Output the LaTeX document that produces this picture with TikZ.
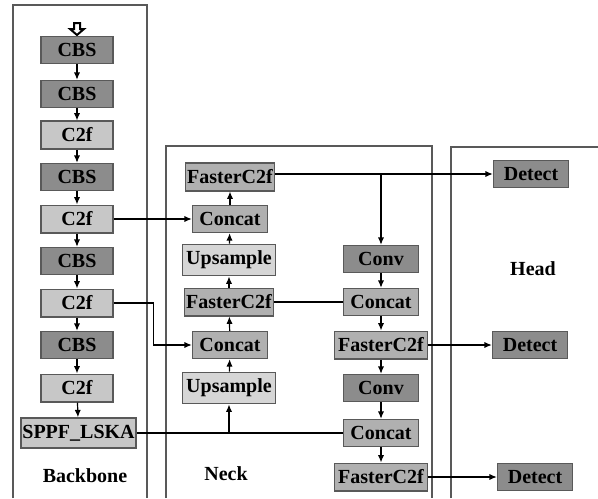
\documentclass[tikz,border=0pt]{standalone}
\usepackage{fontspec}
\setmainfont{Liberation Serif}[BoldFont={Liberation Serif Bold}]
\usetikzlibrary{arrows.meta,positioning}
\definecolor{dkgray}{gray}{0.55}
\definecolor{mdgray}{gray}{0.69}
\definecolor{ltgray}{gray}{0.78}
\definecolor{pale}{gray}{0.84}
\definecolor{edge}{gray}{0.35}
\begin{document}
\begin{tikzpicture}[x=0.5pt,y=-0.5pt,
box/.style={draw=edge,line width=0.7pt,inner xsep=2pt,minimum height=13.5pt,minimum width=37.5pt,font=\rmfamily\fontsize{10}{11}\selectfont\bfseries},
bb/.style={box,minimum width=36pt},
ref/.style={-{Latex[length=1.3mm,width=1.1mm]},line width=0.6pt},
panel/.style={draw=edge,line width=0.6pt},
lbl/.style={font=\rmfamily\fontsize{10}{11}\selectfont\bfseries}]
\useasboundingbox (0,0) rectangle (598,498);
% panels
\draw[panel] (13,498) -- (13,5) -- (147,5) -- (147,498);
\draw[panel] (166,498) -- (166,146) -- (432,146) -- (432,498);
\draw[panel] (451,498) -- (451,147) -- (598,147);
\node[lbl] (lbb) at (85,476) {Backbone};
\node[lbl] (lnk) at (226,474) {Neck};
\node[lbl] (lhd) at (533,269) {Head};
% input
\draw[line width=1pt,fill=white] (74,23) -- (80,23) -- (80,29) -- (84,29) -- (77,35) -- (70,29) -- (74,29) -- cycle;
% backbone
\node[bb,fill=dkgray] (cbs1) at (77,50) {CBS};
\node[bb,fill=dkgray] (cbs2) at (77,94) {CBS};
\node[bb,fill=ltgray] (c2f1) at (77,135) {C2f};
\node[bb,fill=dkgray] (cbs3) at (77,177) {CBS};
\node[bb,fill=ltgray] (c2f2) at (77,219) {C2f};
\node[bb,fill=dkgray] (cbs4) at (77,261) {CBS};
\node[bb,fill=ltgray] (c2f3) at (77,303) {C2f};
\node[bb,fill=dkgray] (cbs5) at (77,345) {CBS};
\node[bb,fill=ltgray] (c2f4) at (77,388) {C2f};
\node[box,fill=ltgray,inner xsep=0.6pt,minimum height=15pt] (sppf) at (78.5,433) {SPPF\_LSKA};
\draw[ref] (cbs1) -- (cbs2); \draw[ref] (cbs2) -- (c2f1);
\draw[ref] (c2f1) -- (cbs3); \draw[ref] (cbs3) -- (c2f2);
\draw[ref] (c2f2) -- (cbs4); \draw[ref] (cbs4) -- (c2f3);
\draw[ref] (c2f3) -- (cbs5); \draw[ref] (cbs5) -- (c2f4);
\draw[ref] (c2f4) -- (sppf);
% neck, up path
\node[box,fill=mdgray,inner xsep=1pt] (fc1) at (230,177) {FasterC2f};
\node[box,fill=mdgray] (cat1) at (230,219) {Concat};
\node[box,fill=pale] (up1) at (229,260) {Upsample};
\node[box,fill=mdgray,inner xsep=1pt] (fc2) at (229,302) {FasterC2f};
\node[box,fill=mdgray] (cat2) at (230,345) {Concat};
\node[box,fill=pale] (up2) at (229,388) {Upsample};
\draw[ref] (up2) -- (cat2); \draw[ref] (cat2) -- (fc2);
\draw[ref] (fc2) -- (up1); \draw[ref] (up1) -- (cat1);
\draw[ref] (cat1) -- (fc1);
% neck, down path
\node[box,fill=dkgray] (conv1) at (381,259) {Conv};
\node[box,fill=mdgray] (cat3) at (381,302) {Concat};
\node[box,fill=mdgray] (fc3) at (381,345) {FasterC2f};
\node[box,fill=dkgray] (conv2) at (381,388) {Conv};
\node[box,fill=mdgray] (cat4) at (381,433) {Concat};
\node[box,fill=mdgray] (fc4) at (381,477) {FasterC2f};
\draw[ref] (conv1) -- (cat3); \draw[ref] (cat3) -- (fc3);
\draw[ref] (fc3) -- (conv2); \draw[ref] (conv2) -- (cat4);
\draw[ref] (cat4) -- (fc4);
% head
\node[box,fill=dkgray] (det1) at (531,174) {Detect};
\node[box,fill=dkgray] (det2) at (530,345) {Detect};
\node[box,fill=dkgray] (det3) at (535,477) {Detect};
% links
\draw[ref] (c2f2) -- (cat1);
\draw[ref] (c2f3.east) -- ++(40,0) |- (cat2.west);
\draw[line width=0.6pt] (sppf.east) -- (cat4.west);
\draw[ref] (up2.south |- sppf.east) -- (up2.south);
\draw[line width=0.6pt] (fc2) -- (cat3);
\draw[ref] (fc1.east |- det1.west) -- (det1.west);
\draw[ref] (conv1.north |- det1.west) -- (conv1.north);
\draw[ref] (fc3) -- (det2);
\draw[ref] (fc4) -- (det3);
\end{tikzpicture}
\end{document}
